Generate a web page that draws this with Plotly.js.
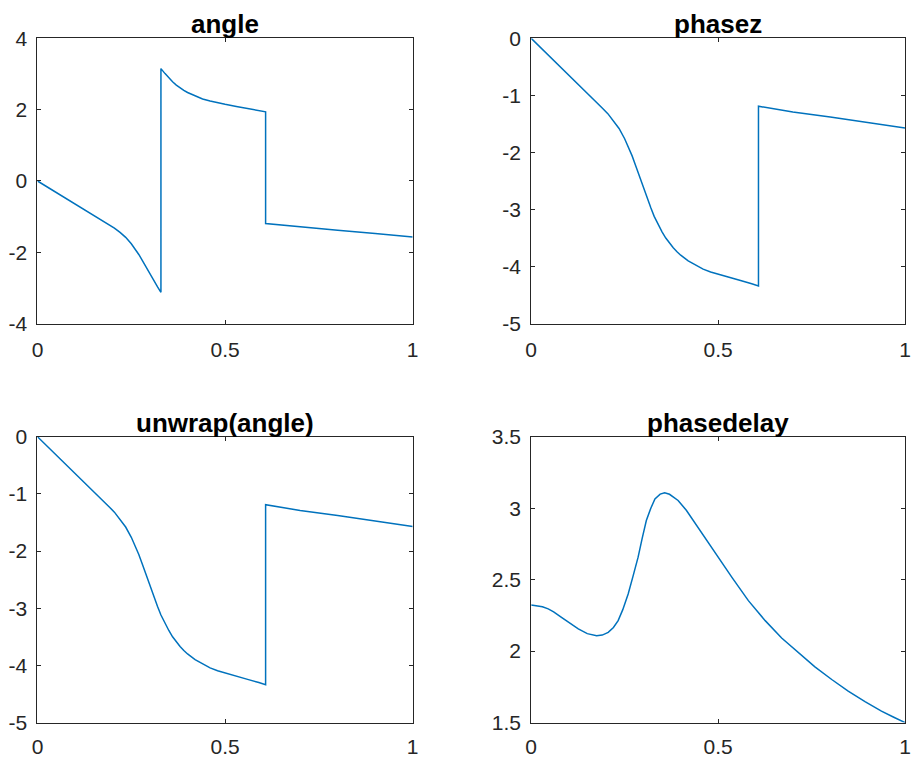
<!DOCTYPE html>
<html>
<head>
<meta charset="utf-8">
<script src="https://cdn.plot.ly/plotly-3.0.1.min.js"></script>
<style>html,body{margin:0;padding:0;background:#fff;}#chart{width:911px;height:760px;}</style>
</head>
<body>
<div id="chart"></div>
<script>
// Normalized frequency (x pi rad/sample)
var freq = [0, 0.03, 0.06, 0.09, 0.12, 0.15, 0.17, 0.19, 0.205, 0.22, 0.235, 0.25, 0.26, 0.27, 0.28, 0.29, 0.30, 0.31, 0.32, 0.329, 0.329, 0.34, 0.35, 0.36, 0.37, 0.38, 0.39, 0.40, 0.42, 0.44, 0.46, 0.48, 0.50, 0.53, 0.56, 0.59, 0.608, 0.608, 0.70, 0.80, 0.90, 1.0];
var angleVals = [0, -0.19, -0.39, -0.58, -0.77, -0.96, -1.09, -1.22, -1.32, -1.44, -1.58, -1.76, -1.90, -2.06, -2.24, -2.43, -2.62, -2.80, -2.97, -3.12, 3.15, 3.01, 2.89, 2.78, 2.69, 2.61, 2.54, 2.48, 2.38, 2.30, 2.24, 2.19, 2.15, 2.09, 2.04, 1.98, 1.94, -1.19, -1.29, -1.38, -1.475, -1.57];
var phasezVals = [0, -0.19, -0.39, -0.58, -0.77, -0.96, -1.09, -1.22, -1.32, -1.44, -1.58, -1.76, -1.90, -2.06, -2.24, -2.43, -2.62, -2.80, -2.97, -3.12, -3.12, -3.27, -3.39, -3.50, -3.59, -3.67, -3.74, -3.80, -3.90, -3.98, -4.045, -4.095, -4.135, -4.19, -4.245, -4.30, -4.34, -1.19, -1.29, -1.38, -1.475, -1.57];
var unwrapVals = [0, -0.19, -0.39, -0.58, -0.77, -0.96, -1.09, -1.22, -1.32, -1.44, -1.58, -1.76, -1.90, -2.06, -2.24, -2.43, -2.62, -2.80, -2.97, -3.12, -3.12, -3.27, -3.39, -3.50, -3.59, -3.67, -3.74, -3.80, -3.90, -3.98, -4.045, -4.095, -4.135, -4.19, -4.245, -4.30, -4.34, -1.19, -1.29, -1.38, -1.475, -1.57];
// Phase delay (samples)
var pdFreq = [0, 0.03, 0.0455, 0.06, 0.081, 0.10, 0.126, 0.15, 0.175, 0.19, 0.206, 0.22, 0.2326, 0.245, 0.2594, 0.273, 0.286, 0.297, 0.308, 0.32, 0.331, 0.345, 0.357, 0.37, 0.393, 0.415, 0.437, 0.465, 0.492, 0.537, 0.581, 0.626, 0.670, 0.715, 0.759, 0.804, 0.848, 0.893, 0.937, 0.97, 1.0];
var pdVals = [2.323, 2.31, 2.295, 2.275, 2.236, 2.20, 2.155, 2.122, 2.108, 2.112, 2.131, 2.165, 2.213, 2.29, 2.40, 2.53, 2.657, 2.79, 2.913, 3.00, 3.065, 3.098, 3.107, 3.097, 3.054, 2.985, 2.90, 2.79, 2.684, 2.516, 2.353, 2.213, 2.091, 1.986, 1.890, 1.801, 1.720, 1.647, 1.580, 1.537, 1.50];

var titles = ["angle", "phasez", "unwrap(angle)", "phasedelay"];
var xTickVals = [0, 0.5, 1];
var xTickText = ["0", "0.5", "1"];
var yTicks1 = [-4, -2, 0, 2, 4];
var yText1 = ["-4", "-2", "0", "2", "4"];
var yTicks2 = [-5, -4, -3, -2, -1, 0];
var yText2 = ["-5", "-4", "-3", "-2", "-1", "0"];
var yTicks4 = [1.5, 2, 2.5, 3, 3.5];
var yText4 = ["1.5", "2", "2.5", "3", "3.5"];

var lineStyle = {color: '#0072BD', width: 1.5};
var traces = [
  {x: freq, y: angleVals, xaxis: 'x', yaxis: 'y', mode: 'lines', line: lineStyle},
  {x: freq, y: phasezVals, xaxis: 'x2', yaxis: 'y2', mode: 'lines', line: lineStyle},
  {x: freq, y: unwrapVals, xaxis: 'x3', yaxis: 'y3', mode: 'lines', line: lineStyle},
  {x: pdFreq, y: pdVals, xaxis: 'x4', yaxis: 'y4', mode: 'lines', line: lineStyle}
];

var font = 'Liberation Sans, Arial, Helvetica, sans-serif';
function ax(extra) {
  var base = {
    showline: true, mirror: 'ticks', linecolor: '#262626', linewidth: 1,
    ticks: 'inside', ticklen: 4, tickcolor: '#262626', tickwidth: 1,
    showgrid: false, zeroline: false, tickmode: 'array', ticklabeloverflow: 'allow',
    tickfont: {family: font, size: 21, color: '#262626'}, fixedrange: true
  };
  for (var k in extra) base[k] = extra[k];
  return base;
}
var xL = [0.04116, 0.4530], xR = [0.5831, 0.99341];
var yT = [0.5741, 0.9496], yB = [0.0493, 0.4254];
var tfont = {family: font, size: 26, color: '#000'};
function ttl(i, xd, yd) {
  return {text: '<b>' + titles[i] + '</b>', xref: 'paper', yref: 'paper', x: (xd[0] + xd[1]) / 2, y: yd[1], xanchor: 'center', yanchor: 'bottom', yshift: -3, showarrow: false, font: tfont};
}

var layout = {
  width: 911, height: 760,
  margin: {l: 0, r: 0, t: 0, b: 0},
  paper_bgcolor: '#ffffff', plot_bgcolor: '#ffffff',
  showlegend: false,
  xaxis: ax({domain: xL, range: [0, 1], anchor: 'y', tickvals: xTickVals, ticktext: xTickText, ticklabelstandoff: 7}),
  yaxis: ax({domain: yT, range: [-4, 4], anchor: 'x', tickvals: yTicks1, ticktext: yText1, ticklabelstandoff: 5}),
  xaxis2: ax({domain: xR, range: [0, 1], anchor: 'y2', tickvals: xTickVals, ticktext: xTickText, ticklabelstandoff: 7}),
  yaxis2: ax({domain: yT, range: [-5, 0], anchor: 'x2', tickvals: yTicks2, ticktext: yText2, ticklabelstandoff: 5}),
  xaxis3: ax({domain: xL, range: [0, 1], anchor: 'y3', tickvals: xTickVals, ticktext: xTickText, ticklabelstandoff: 5}),
  yaxis3: ax({domain: yB, range: [-5, 0], anchor: 'x3', tickvals: yTicks2, ticktext: yText2, ticklabelstandoff: 5}),
  xaxis4: ax({domain: xR, range: [0, 1], anchor: 'y4', tickvals: xTickVals, ticktext: xTickText, ticklabelstandoff: 5}),
  yaxis4: ax({domain: yB, range: [1.5, 3.5], anchor: 'x4', tickvals: yTicks4, ticktext: yText4, ticklabelstandoff: 5}),
  annotations: [ttl(0, xL, yT), ttl(1, xR, yT), ttl(2, xL, yB), ttl(3, xR, yB)]
};

Plotly.newPlot('chart', traces, layout, {displayModeBar: false, staticPlot: true});
</script>
</body>
</html>
